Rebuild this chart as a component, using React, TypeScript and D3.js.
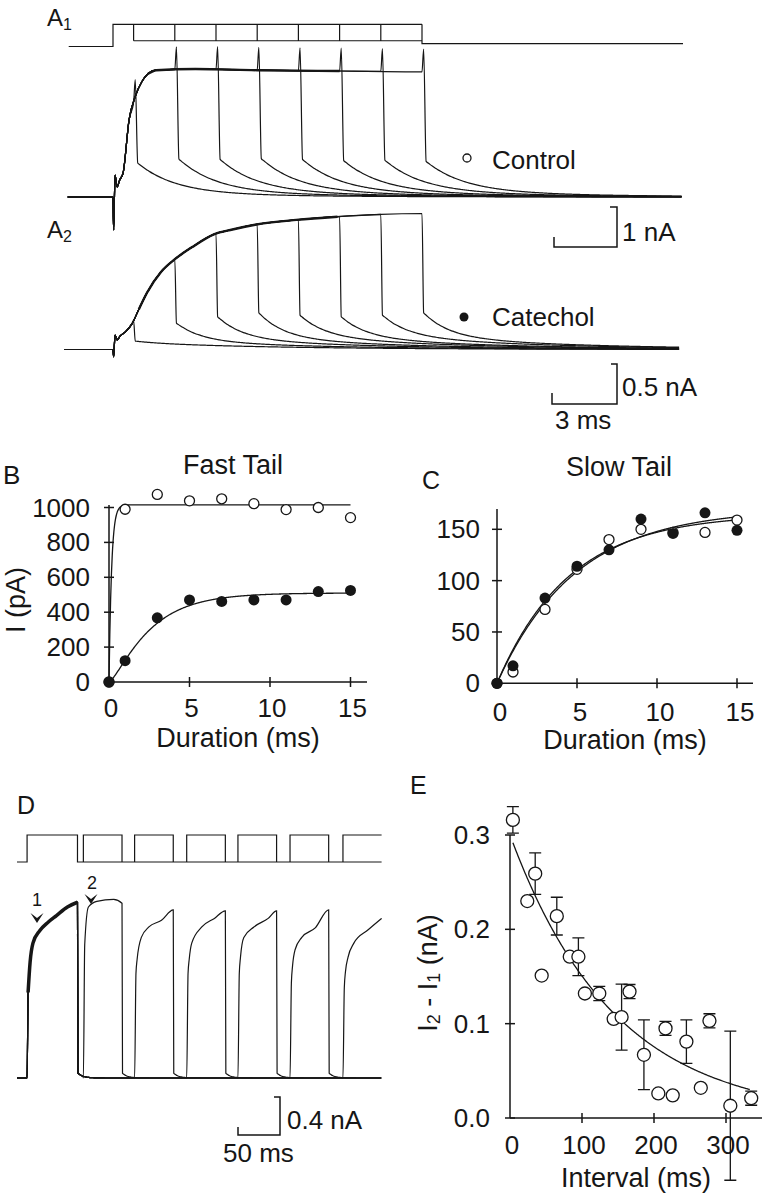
import React from "react";
import * as d3 from "d3";

const FONT = "'Liberation Sans', Arial, Helvetica, sans-serif";
const INK = "#161616";

// ---------- A: tail protocol and currents ----------
const stepDurations = [1, 3, 5, 7, 9, 11, 13, 15]; // ms
const protocolMv = [-80, 20, -54, -67]; // hold, test, tail, post

// activation envelopes (ms, nA)
const controlEnvT = [-2.2, 0, 0.03, 0.1, 0.2, 0.32, 0.49, 0.78, 1.07, 1.4, 1.7, 2.1, 4, 7, 11, 15];
const controlEnvI = [0, 0, -0.82, 0.55, 0.25, 0.42, 0.6, 1.93, 2.5, 2.88, 3.08, 3.17, 3.2, 3.17, 3.15, 3.13];
const controlSpike = 0.57;
const controlTailFast = [0.75, 0.81, 0.78, 0.79, 0.77, 0.74, 0.75, 0.71];
const controlTailSlow = [0.1, 0.14, 0.16, 0.17, 0.17, 0.17, 0.17, 0.18];
const controlTau = [1.8, 6];

const catecholEnvT = [-2.35, 0, 0.03, 0.1, 0.2, 0.35, 0.6, 0.92, 1.25, 1.65, 2.33, 2.96, 3.84, 4.9, 5.8, 6.9, 8.9, 10.9, 13, 15];
const catecholEnvI = [0, 0, -0.09, 0.18, 0.12, 0.17, 0.22, 0.32, 0.5, 0.71, 0.97, 1.12, 1.28, 1.44, 1.5, 1.56, 1.62, 1.66, 1.69, 1.7];
const catecholTailFast = [0.02, 0.22, 0.27, 0.31, 0.26, 0.25, 0.25, 0.29];
const catecholTailSlow = [0.085, 0.11, 0.14, 0.15, 0.17, 0.16, 0.18, 0.17];
const catecholTau = [1.2, 7];

// ---------- B / C: tail amplitudes ----------
const durations = [0, 1, 3, 5, 7, 9, 11, 13, 15];
const fastControl = [0, 990, 1075, 1038, 1050, 1022, 988, 1000, 942];
const fastCatechol = [0, 122, 368, 470, 462, 470, 470, 518, 525];
const slowControl = [0, 11, 72, 111, 140, 150, 147, 147, 159];
const slowCatechol = [0, 17, 83, 114, 130, 160, 146, 166, 149];
const fastFitControl = [1015, 0.16, 1]; // amplitude, tau, power
const fastFitCatechol = [510, 2.2, 1.4];
const slowFitControl = [165, 4.5];
const slowFitCatechol = [170, 4.9];

// ---------- D: paired pulses ----------
const dIntervals = [7, 68, 130, 191, 253, 316]; // ms
const dPulse1 = [[0, 0], [1.2, 0.9], [3.6, 1.22], [7, 1.42], [15, 1.55], [25, 1.64], [35, 1.71], [48, 1.8], [60, 1.85]];
const dPulse2 = [
  [[0, 0], [1.6, 1.4], [6, 1.8], [16, 1.86], [36, 1.88], [46, 1.84]],
  [[0, 0], [1.6, 1.1], [3, 1.25], [8, 1.48], [17, 1.59], [32, 1.66], [46, 1.77]],
  [[0, 0], [1.6, 1.1], [3, 1.25], [6, 1.42], [18, 1.59], [33, 1.68], [46, 1.76]],
  [[0, 0], [1.6, 1.1], [3, 1.27], [7, 1.48], [19, 1.59], [36, 1.68], [46, 1.76]],
  [[0, 0], [1.6, 1.0], [3, 1.18], [6, 1.35], [14, 1.48], [30, 1.58], [46, 1.77]],
  [[0, 0], [1.6, 0.95], [3, 1.12], [6, 1.27], [13, 1.42], [30, 1.56], [46, 1.68]],
];

// ---------- E: facilitation vs interval ----------
const eInterval = [4, 24, 35, 44, 65, 83, 95, 104, 124, 144, 155, 166, 186, 206, 216, 226, 245, 265, 277, 306, 335];
const eDelta = [0.316, 0.23, 0.259, 0.151, 0.214, 0.171, 0.171, 0.132, 0.132, 0.105, 0.107, 0.134, 0.067, 0.026, 0.095, 0.024, 0.081, 0.032, 0.103, 0.013, 0.021];
const eSem = [0.014, 0, 0.022, 0, 0.02, 0, 0.02, 0, 0.0075, 0, 0.035, 0.0075, 0.037, 0, 0.0075, 0, 0.023, 0, 0.0075, 0.079, 0.0075];
const eFit = [0.3, 145];

type P = [number, number];

const toPath = (pts: P[], sx: (v: number) => number, sy: (v: number) => number) =>
  d3.line<P>().x((d) => sx(d[0])).y((d) => sy(d[1])).curve(d3.curveMonotoneX)(pts) || "";

function tailSweep(envT: number[], envI: number[], ti: number, spike: number, fast: number, slow: number, tau: number[], tEnd: number) {
  const env = d3.scaleLinear(envT, envI);
  const pts: P[] = [];
  envT.forEach((t, k) => { if (t < ti) pts.push([t, envI[k]]); });
  const iEnd = env(ti);
  pts.push([ti, iEnd]);
  if (spike) pts.push([ti + 0.08, iEnd + spike]);
  const start = ti + (spike ? 0.2 : 0.08);
  for (let dt = 0; start + dt <= tEnd; dt += 0.1) {
    pts.push([start + dt, fast * Math.exp(-dt / tau[0]) + slow * Math.exp(-dt / tau[1])]);
  }
  return pts;
}

const txt = (x: number, y: number, s: string, size = 26, anchor = "start") => (
  <text x={x} y={y} fontSize={size} textAnchor={anchor} dominantBaseline="central" fill={INK}>{s}</text>
);

export default function App() {
  // ----- A scales
  const tA = d3.scaleLinear().domain([0, 15]).range([113, 422]);
  const vA = d3.scaleLinear().domain([protocolMv[0], protocolMv[1]]).range([46.5, 24.3]);
  const yA1 = d3.scaleLinear().domain([0, 1]).range([197, 157]);
  const yA2 = d3.scaleLinear().domain([0, 0.5]).range([349.5, 309.5]);
  const tEndA = tA.invert(683);

  const protoA =
    `M${tA(-2.15)},${vA(protocolMv[0])}H${tA(0)}V${vA(protocolMv[1])}H${tA(15)}` +
    `M${tA(stepDurations[0])},${vA(protocolMv[2])}H${tA(15)}` +
    stepDurations.filter((d) => d < 15).map((d) => `M${tA(d)},${vA(protocolMv[1])}V${vA(protocolMv[2])}`).join("") +
    `M${tA(15)},${vA(protocolMv[1])}V${vA(protocolMv[3])}H${tA(tEndA)}`;

  const a1Paths = stepDurations.map((d, i) =>
    toPath(tailSweep(controlEnvT, controlEnvI, d, controlSpike, controlTailFast[i], controlTailSlow[i], controlTau, tEndA), tA, yA1));
  const a2Paths = stepDurations.map((d, i) =>
    toPath(tailSweep(catecholEnvT, catecholEnvI, d, 0, catecholTailFast[i], catecholTailSlow[i], catecholTau, tA.invert(680)), tA, yA2));
  const a1Env = toPath(controlEnvT.map((t, k) => [t, controlEnvI[k]] as P).filter((p) => p[0] >= 1.7 && p[0] <= 13), tA, yA1);
  const a2Env = toPath(catecholEnvT.map((t, k) => [t, catecholEnvI[k]] as P).filter((p) => p[0] >= 1.25 && p[0] <= 11), tA, yA2);

  // ----- B
  const xB = d3.scaleLinear().domain([0, 15]).range([109, 350.5]);
  const yB = d3.scaleLinear().domain([0, 1000]).range([682, 507.5]);
  const fitT = d3.range(0, 15.001, 0.05);
  const fitB1 = toPath(fitT.map((t) => [t, fastFitControl[0] * Math.pow(1 - Math.exp(-t / fastFitControl[1]), fastFitControl[2])] as P), xB, yB);
  const fitB2 = toPath(fitT.map((t) => [t, fastFitCatechol[0] * Math.pow(1 - Math.exp(-t / fastFitCatechol[1]), fastFitCatechol[2])] as P), xB, yB);

  // ----- C
  const xC = d3.scaleLinear().domain([0, 15]).range([497, 737]);
  const yC = d3.scaleLinear().domain([0, 150]).range([683.3, 529.3]);
  const fitC1 = toPath(fitT.map((t) => [t, slowFitControl[0] * (1 - Math.exp(-t / slowFitControl[1]))] as P), xC, yC);
  const fitC2 = toPath(fitT.map((t) => [t, slowFitCatechol[0] * (1 - Math.exp(-t / slowFitCatechol[1]))] as P), xC, yC);

  // ----- D
  const tMaxD = 434;
  const dT = d3.scaleLinear().domain([0, tMaxD]).range([17, 381.6]);
  const yD = d3.scaleLinear().domain([0, 0.4]).range([1078, 1040]);
  const vD = d3.scaleLinear().domain([protocolMv[0], protocolMv[1]]).range([862, 835]);
  const p1On = 12, p1Len = 60, p2Len = 46;
  const protoD =
    `M${dT(0)},${vD(protocolMv[0])}H${dT(p1On)}V${vD(protocolMv[1])}H${dT(p1On + p1Len)}V${vD(protocolMv[0])}H${dT(tMaxD)}` +
    dIntervals.map((iv) => {
      const on = p1On + p1Len + iv, off = on + p2Len;
      return `M${dT(on)},${vD(protocolMv[0])}V${vD(protocolMv[1])}H${dT(Math.min(off, tMaxD))}` + (off < tMaxD - 1 ? `V${vD(protocolMv[0])}` : "");
    }).join("");
  const dPaths = dIntervals.map((iv, k) => {
    const pts: P[] = [[0, 0]];
    dPulse1.forEach(([t, v]) => pts.push([p1On + t, v]));
    const e1 = p1On + p1Len;
    const on2 = e1 + iv;
    pts.push([e1 + 0.6, 0.05]);
    for (let t = e1 + 1.6; t < on2 - 0.3; t += 1) pts.push([t, 0.05 * Math.exp(-(t - e1 - 0.6) / 6)]);
    dPulse2[k].forEach(([t, v]) => pts.push([on2 + t, v]));
    const e2 = on2 + p2Len;
    if (e2 < tMaxD - 1) {
      pts.push([e2 + 0.6, 0.05]);
      for (let t = e2 + 1.6; t <= tMaxD; t += 1) pts.push([t, 0.05 * Math.exp(-(t - e2 - 0.6) / 6)]);
    }
    return toPath(pts, dT, yD);
  });
  const dBand = toPath(dPulse1.filter((p) => p[0] >= 1.2).map(([t, v]) => [p1On + t, v] as P), dT, yD);

  // ----- E
  const xE = d3.scaleLinear().domain([0, 300]).range([510, 726]);
  const yE = d3.scaleLinear().domain([0, 0.3]).range([1118, 835]);
  const fitE = toPath(d3.range(4, 333.1, 1).map((t) => [t, eFit[0] * Math.exp(-t / eFit[1])] as P), xE, yE);

  const sw = 1.5;
  const arrow = (x: number, y: number) => <path d={`M${x - 6.5},${y - 10}L${x},${y}L${x + 6.5},${y - 10}L${x},${y - 5}Z`} fill={INK} />;

  return (
    <svg width={767} height={1199} viewBox="0 0 767 1199" style={{ position: "absolute", left: 0, top: 0, background: "#fff" }} fontFamily={FONT}>
      <rect width={767} height={1199} fill="#fff" />

      {/* ===== A1 ===== */}
      <text x={47} y={17} fontSize={24} dominantBaseline="central" fill={INK}>A<tspan fontSize={16} dy={7}>1</tspan></text>
      <path d={protoA} fill="none" stroke={INK} strokeWidth={1.2} />
      {a1Paths.map((d, i) => <path key={i} d={d} fill="none" stroke={INK} strokeWidth={1.2} />)}
      <path d={a1Env} fill="none" stroke={INK} strokeWidth={2.4} />
      <circle cx={467} cy={158} r={4} fill="#fff" stroke={INK} strokeWidth={1.3} />
      {txt(492, 160, "Control")}
      <path d="M610,207H617V247H554V237" fill="none" stroke={INK} strokeWidth={sw} />
      {txt(622, 232, "1 nA")}

      {/* ===== A2 ===== */}
      <text x={47} y={229} fontSize={24} dominantBaseline="central" fill={INK}>A<tspan fontSize={16} dy={7}>2</tspan></text>
      {a2Paths.map((d, i) => <path key={i} d={d} fill="none" stroke={INK} strokeWidth={1.2} />)}
      <path d={a2Env} fill="none" stroke={INK} strokeWidth={2.4} />
      <circle cx={464} cy={317} r={4.5} fill={INK} />
      {txt(492, 317, "Catechol")}
      <path d="M611,364H617V404H552V393" fill="none" stroke={INK} strokeWidth={sw} />
      {txt(622, 387, "0.5 nA")}
      {txt(555, 420, "3 ms")}

      {/* ===== B ===== */}
      {txt(3, 475, "B", 26)}
      {txt(233, 465, "Fast Tail", 27, "middle")}
      <path d={`M${xB(0)},${yB(0)}H367M${xB(0)},${yB(0)}V505`} fill="none" stroke={INK} strokeWidth={sw} />
      {[0, 200, 400, 600, 800, 1000].map((v) => (
        <g key={v}>
          <path d={`M${xB(0) - 5},${yB(v)}H${xB(0) + 5}`} stroke={INK} strokeWidth={sw} />
          {txt(90, yB(v), String(v), 26, "end")}
        </g>
      ))}
      {[0, 5, 10, 15].map((v) => (
        <g key={v}>
          {v > 0 && <path d={`M${xB(v)},${yB(0) - 5}V${yB(0) + 5}`} stroke={INK} strokeWidth={sw} />}
          {txt(xB(v) + 2, 708, String(v), 26, "middle")}
        </g>
      ))}
      {txt(238, 738, "Duration (ms)", 27, "middle")}
      <text transform="translate(16,600) rotate(-90)" fontSize={27} textAnchor="middle" dominantBaseline="central" fill={INK}>I (pA)</text>
      <path d={fitB1} fill="none" stroke={INK} strokeWidth={1.3} />
      <path d={fitB2} fill="none" stroke={INK} strokeWidth={1.3} />
      {durations.map((t, i) => <circle key={"bo" + i} cx={xB(t)} cy={yB(fastControl[i])} r={5} fill="#fff" stroke={INK} strokeWidth={1.3} />)}
      {durations.map((t, i) => <circle key={"bf" + i} cx={xB(t)} cy={yB(fastCatechol[i])} r={5.5} fill={INK} />)}

      {/* ===== C ===== */}
      {txt(422, 480, "C", 25)}
      {txt(619, 467, "Slow Tail", 27, "middle")}
      <path d={`M${xC(0)},${yC(0)}H753M${xC(0)},${yC(0)}V509`} fill="none" stroke={INK} strokeWidth={sw} />
      {[0, 50, 100, 150].map((v) => (
        <g key={v}>
          <path d={`M${xC(0) - 5},${yC(v)}H${xC(0) + 5}`} stroke={INK} strokeWidth={sw} />
          {txt(480, yC(v), String(v), 26, "end")}
        </g>
      ))}
      {[0, 5, 10, 15].map((v) => (
        <g key={v}>
          {v > 0 && <path d={`M${xC(v)},${yC(0) - 5}V${yC(0) + 5}`} stroke={INK} strokeWidth={sw} />}
          {txt(xC(v) + 3, 712, String(v), 26, "middle")}
        </g>
      ))}
      {txt(625, 740, "Duration (ms)", 27, "middle")}
      <path d={fitC1} fill="none" stroke={INK} strokeWidth={1.3} />
      <path d={fitC2} fill="none" stroke={INK} strokeWidth={1.3} />
      {durations.map((t, i) => <circle key={"co" + i} cx={xC(t)} cy={yC(slowControl[i])} r={5} fill="#fff" stroke={INK} strokeWidth={1.3} />)}
      {durations.map((t, i) => <circle key={"cf" + i} cx={xC(t)} cy={yC(slowCatechol[i])} r={5.5} fill={INK} />)}

      {/* ===== D ===== */}
      {txt(17, 805, "D", 25)}
      <path d={protoD} fill="none" stroke={INK} strokeWidth={1.2} />
      {dPaths.map((d, i) => <path key={i} d={d} fill="none" stroke={INK} strokeWidth={1.2} />)}
      <path d={dBand} fill="none" stroke={INK} strokeWidth={3.5} />
      {txt(37, 900, "1", 18, "middle")}
      {arrow(37, 923)}
      {txt(92, 883, "2", 18, "middle")}
      {arrow(91, 904)}
      <path d="M274,1097H280V1135H238V1127" fill="none" stroke={INK} strokeWidth={sw} />
      {txt(287, 1120, "0.4 nA")}
      {txt(223, 1153, "50 ms")}

      {/* ===== E ===== */}
      {txt(410, 785, "E", 25)}
      <path d={`M${xE(0)},${yE(0)}H762M${xE(0)},${yE(0)}V${yE(0.3)}`} fill="none" stroke={INK} strokeWidth={sw} />
      {[0, 0.1, 0.2, 0.3].map((v) => (
        <g key={v}>
          <path d={`M${xE(0) - 5},${yE(v)}H${xE(0) + 5}`} stroke={INK} strokeWidth={sw} />
          {txt(490, yE(v), v.toFixed(1), 26, "end")}
        </g>
      ))}
      {[0, 100, 200, 300].map((v) => (
        <g key={v}>
          {v > 0 && <path d={`M${xE(v)},${yE(0) - 5}V${yE(0) + 5}`} stroke={INK} strokeWidth={sw} />}
          {txt(xE(v) + 2, 1145, String(v), 26, "middle")}
        </g>
      ))}
      {txt(636, 1178, "Interval (ms)", 27, "middle")}
      <text transform="translate(428,973) rotate(-90)" fontSize={27} textAnchor="middle" dominantBaseline="central" fill={INK}>
        I<tspan fontSize={18} dy={6}>2</tspan><tspan dy={-6}> - I</tspan><tspan fontSize={18} dy={6}>1</tspan><tspan dy={-6}> (nA)</tspan>
      </text>
      <path d={fitE} fill="none" stroke={INK} strokeWidth={1.3} />
      {eInterval.map((t, i) => eSem[i] > 0 && (
        <path key={"eb" + i}
          d={`M${xE(t)},${yE(eDelta[i] + eSem[i])}V${yE(eDelta[i] - eSem[i])}M${xE(t) - 6},${yE(eDelta[i] + eSem[i])}H${xE(t) + 6}M${xE(t) - 6},${yE(eDelta[i] - eSem[i])}H${xE(t) + 6}`}
          fill="none" stroke={INK} strokeWidth={1.3} />
      ))}
      {eInterval.map((t, i) => <circle key={"ec" + i} cx={xE(t)} cy={yE(eDelta[i])} r={6.5} fill="#fff" stroke={INK} strokeWidth={1.3} />)}
    </svg>
  );
}
